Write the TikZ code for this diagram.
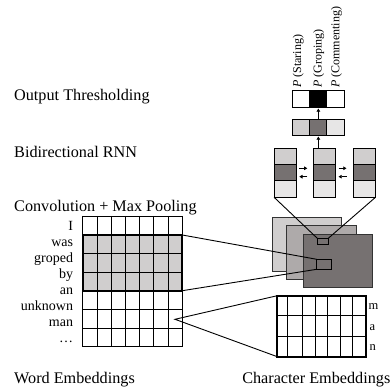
\documentclass[tikz,border=0pt]{standalone}
\usepackage{fontspec}
\setmainfont{Liberation Serif}
\usetikzlibrary{arrows.meta}
\definecolor{gl}{HTML}{D0CECE}
\definecolor{gm}{HTML}{AEAAAA}
\definecolor{gd}{HTML}{767171}
\definecolor{gx}{HTML}{E7E6E6}
\begin{document}
\begin{tikzpicture}[x=1pt,y=-1pt,
  box/.style={draw=black, line width=0.9pt, inner sep=0pt, outer sep=0pt},
  fmap/.style={draw=black!80, line width=0.8pt, inner sep=0pt, outer sep=0pt},
  arr/.style={line width=0.9pt, -{Triangle[length=3.2pt,width=3.6pt]}},
  conn/.style={line width=0.9pt},
  big/.style={font=\fontsize{16.2}{19}\selectfont, inner sep=0pt},
  word/.style={font=\fontsize{14}{16}\selectfont, inner sep=0pt, anchor=base east},
  plab/.style={font=\fontsize{12}{14}\selectfont, inner sep=0pt, rotate=90, anchor=west},
  chr/.style={font=\fontsize{12.5}{14}\selectfont, inner sep=0pt, anchor=base west},
  gridline/.style={line width=0.7pt}
]
\useasboundingbox (0,0) rectangle (392,387);

% left labels
\node[big, anchor=base west] (lOut) at (14,100.7) {Output Thresholding};
\node[big, anchor=base west] (lRnn) at (14,157.3) {Bidirectional RNN};
\node[big, anchor=base west] (lConv) at (14,211.7) {Convolution + Max Pooling};
\node[big, anchor=base west] (lWord) at (14,384) {Word Embeddings};
\node[big, anchor=base east] (lChar) at (390.5,384) {Character Embeddings};

% output thresholding
\node[box, fill=white, minimum width=17.1pt, minimum height=16.6pt] (o1) at (301.25,99) {};
\node[box, fill=black, minimum width=17.1pt, minimum height=16.6pt] (o2) at (318.35,99) {};
\node[box, fill=white, minimum width=17.1pt, minimum height=16.6pt] (o3) at (335.45,99) {};
\node[plab] (p1) at (298.3,88) {\textit{P} (Staring)};
\node[plab] (p2) at (318.8,88) {\textit{P} (Groping)};
\node[plab] (p3) at (336.4,88) {\textit{P} (Commenting)};

% RNN output
\node[box, fill=gl, minimum width=17.1pt, minimum height=15.7pt] (r1) at (301.25,127.15) {};
\node[box, fill=gd, minimum width=17.1pt, minimum height=15.7pt] (r2) at (318.35,127.15) {};
\node[box, fill=gx, minimum width=17.1pt, minimum height=15.7pt] (r3) at (335.45,127.15) {};
\draw[arr, shorten >=1.2pt] (r2.north) -- (o2.south);

% RNN columns
\foreach \n/\cx in {a/285.1, b/324.8, c/364.5}{
  \node[box, fill=gl, minimum width=22pt, minimum height=16pt] (\n1) at (\cx,156.3) {};
  \node[box, fill=gd, minimum width=22pt, minimum height=16.4pt] (\n2) at (\cx,172.5) {};
  \node[box, fill=gx, minimum width=22pt, minimum height=16.6pt] (\n3) at (\cx,189) {};
}
\draw[arr, shorten >=1.5pt, shorten <=0pt] (b1.north -| r2.south) -- (r2.south);
\coordinate (h1) at (299.3,168.3); \coordinate (h2) at (307.3,168.3);
\coordinate (h3) at (299.3,176.7); \coordinate (h4) at (307.3,176.7);
\coordinate (h5) at (338.5,168.3); \coordinate (h6) at (346.5,168.3);
\coordinate (h7) at (338.5,176.7); \coordinate (h8) at (346.5,176.7);
\draw[arr] (h1) -- (h2);
\draw[arr] (h4) -- (h3);
\draw[arr] (h5) -- (h6);
\draw[arr] (h8) -- (h7);

% feature maps
\node[fmap, fill=gl, minimum width=69.4pt, minimum height=54.4pt] (f1) at (307,244.5) {};
\node[fmap, fill=gm, minimum width=70pt, minimum height=54.3pt] (f2) at (321.7,252.15) {};
\node[fmap, fill=gd, minimum width=69pt, minimum height=53.7pt] (f3) at (337.8,260.85) {};
\node[box, fill=gd, minimum width=11pt, minimum height=6pt] (s1) at (322.8,241.3) {};
\node[box, fill=gd, minimum width=14.3pt, minimum height=10pt] (s2) at (323.85,264.3) {};
\draw[conn] (a3.south west) -- (s1.north west);
\draw[conn] (c3.south east) -- (s1.north east);

% word embeddings grid
\node[inner sep=0pt, outer sep=0pt, fill=gl, minimum width=99.6pt, minimum height=55.7pt] (hl) at (132.5,262.85) {};
\foreach \i in {0,...,7}{
  \draw[gridline] ({82.7+\i*14.2286},216) -- ({82.7+\i*14.2286},346.7);
  \draw[gridline] (82.7,{216+\i*18.6714}) -- (182.3,{216+\i*18.6714});
}
\draw[line width=1.7pt] (hl.north west) rectangle (hl.south east);
\draw[conn] (hl.north east) -- (s2.north west);
\draw[conn] (hl.south east) -- (s2.south west);

\node[word] (w1) at (73.3,230.5) {I};
\node[word] (w2) at (73.3,246.5) {was};
\node[word] (w3) at (73.3,262.5) {groped};
\node[word] (w4) at (73.3,278.5) {by};
\node[word] (w5) at (73.3,294.5) {an};
\node[word] (w6) at (73.3,310.5) {unknown};
\node[word] (w7) at (73.3,326.5) {man};
\node[word] (w8) at (73.3,342.5) {\ldots};

% character embeddings
\node[inner sep=0pt, outer sep=0pt, minimum width=88.4pt, minimum height=61pt] (cm) at (321.5,326.2) {};
\foreach \xx in {287.3,302.7,315,327.3,340,352.3}{
  \draw[gridline] (\xx,295.7) -- (\xx,356.7);
}
\draw[gridline] (277.3,315.7) -- (365.7,315.7);
\draw[gridline] (277.3,336.7) -- (365.7,336.7);
\draw[line width=1.7pt] (cm.north west) rectangle (cm.south east);
\coordinate (v) at (175,319.3);
\draw[conn] (cm.north west) -- (v) -- (cm.south west);
\node[chr] (cm1) at (368.3,309.8) {m};
\node[chr] (cm2) at (369.3,331) {a};
\node[chr] (cm3) at (369.3,351) {n};
\end{tikzpicture}
\end{document}
